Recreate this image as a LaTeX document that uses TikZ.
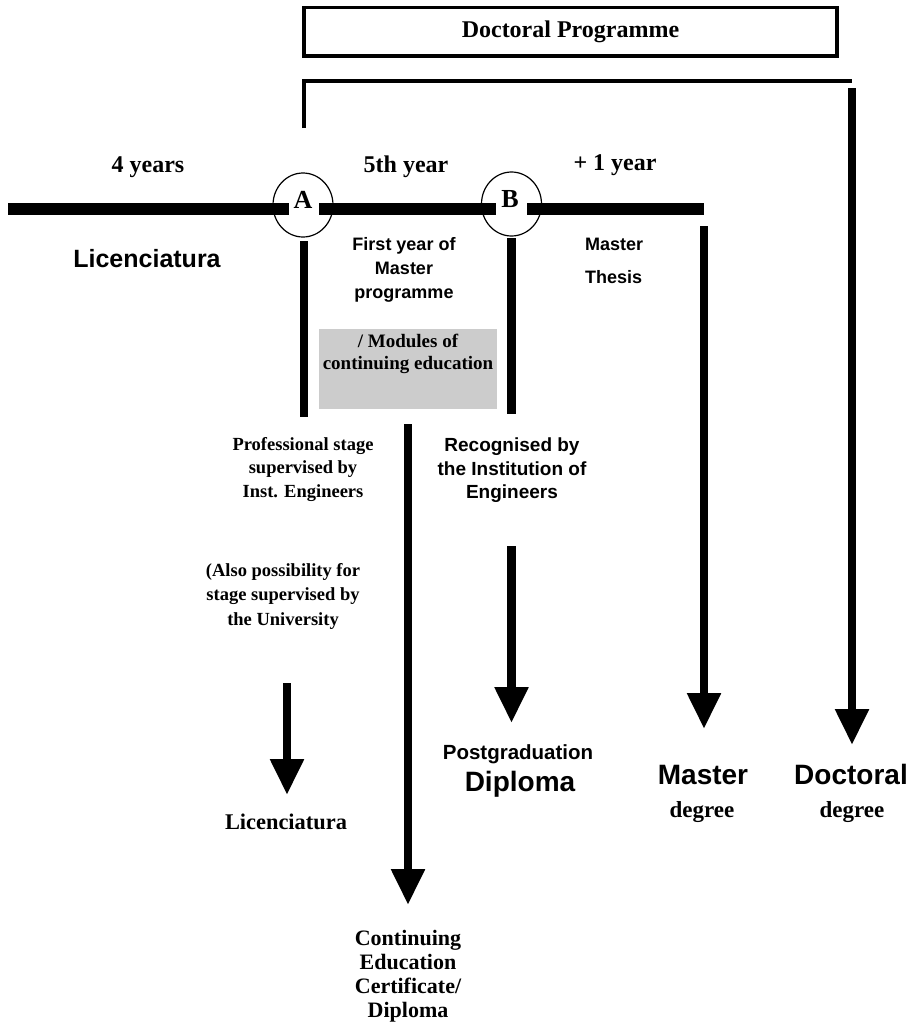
\documentclass[tikz,border=0pt]{standalone}
\usepackage{fontspec}
\setmainfont{Liberation Serif}
\newfontfamily\arialfont{Liberation Sans}
\usetikzlibrary{arrows.meta,shapes.geometric}

\begin{document}
\begin{tikzpicture}[x=1pt,y=-1pt,
  bar/.style={line width=12pt},
  stem/.style={line width=8.5pt},
  flowarrow/.style={line width=8.5pt,-{Triangle[width=32pt,length=36pt]}},
  frame/.style={line width=3.5pt},
  ring/.style={draw,line width=1.2pt,ellipse,minimum width=60pt,minimum height=64pt,inner sep=0pt},
  rm/.style={font=\fontsize{#1}{#1}\selectfont\bfseries,inner sep=0pt,align=center},
  sf/.style={font=\fontsize{#1}{#1}\selectfont\arialfont\bfseries,inner sep=0pt,align=center},
  graybox/.style={fill=black!20,minimum width=178pt,minimum height=80pt,inner sep=0pt}
]
\useasboundingbox (0,0) rectangle (916,1033);

% programme box and bracket leading to the doctorate
\node[draw,frame,minimum width=533pt,minimum height=48.5pt,inner sep=0pt,
      font=\fontsize{24}{24}\selectfont\bfseries] (dp) at (570.5,31.75) {Doctoral Programme};
\coordinate (brFoot) at (304,128);
\coordinate (brCorner) at (304,81);
\coordinate (brEnd) at (852,81);
\draw[line width=4pt,miter limit=4] (brFoot) -- (brCorner) -- (brEnd);

% decision points on the time line
\node[ring] (A) at (303,205) {};
\node[ring] (B) at (511.5,204) {};
\node[rm=26,anchor=base] (Alab) at (303,208) {A};
\node[rm=26,anchor=base] (Blab) at (510,207) {B};

% time line
\coordinate (barL) at (8,209);
\coordinate (aL) at (289,209);
\coordinate (aR) at (319,209);
\coordinate (bL) at (496,209);
\coordinate (bR) at (527,209);
\coordinate (barR) at (704,209);
\draw[bar] (barL) -- (aL);
\draw[bar] (aR) -- (bL);
\draw[bar] (bR) -- (barR);

% period labels
\node[rm=24,anchor=base] (y4) at (148,172) {4 years};
\node[rm=24,anchor=base] (y5) at (406,172) {5th year};
\node[rm=24,anchor=base] (y6) at (615,170) {+ 1 year};

% stems below A and B
\coordinate (aTop) at (304,241);
\coordinate (aBot) at (304,417);
\coordinate (bTop) at (511.5,238);
\coordinate (bBot) at (511.5,414);
\draw[stem] (aTop) -- (aBot);
\draw[stem] (bTop) -- (bBot);

% module block
\node[graybox] (G) at (408,369) {};
\node[anchor=north,inner sep=0pt,align=center,font=\fontsize{19}{22}\selectfont\bfseries] (Gtxt) at (408,334)
  {/ Modules of\\continuing education};

% texts near the time line
\node[sf=25,anchor=base] (lic) at (147,267) {Licenciatura};
\node[anchor=north,inner sep=0pt,align=center,font=\fontsize{18}{24}\selectfont\arialfont\bfseries]
  (fy) at (404,237) {First year of\\Master\\programme};
\node[anchor=north west,inner sep=0pt,align=left,font=\fontsize{18}{33}\selectfont\arialfont\bfseries]
  (mt) at (585,238) {Master\\Thesis};

% outgoing arrows
\coordinate (ceTop) at (408,424);
\coordinate (ceTip) at (408,905);
\coordinate (pgTop) at (511.5,546);
\coordinate (pgTip) at (511.5,723);
\coordinate (liTop) at (287,683);
\coordinate (liTip) at (287,795);
\coordinate (maTop) at (704,226);
\coordinate (maTip) at (704,729);
\coordinate (doTop) at (852,88);
\coordinate (doTip) at (852,745);
\draw[flowarrow] (ceTop) -- (ceTip);
\draw[flowarrow] (pgTop) -- (pgTip);
\draw[flowarrow] (liTop) -- (liTip);
\draw[flowarrow] (maTop) -- (maTip);
\draw[flowarrow] (doTop) -- (doTip);

% notes under the stems
\node[anchor=north,inner sep=0pt,align=center,font=\fontsize{18.5}{23.5}\selectfont\bfseries]
  (ps) at (303,437) {Professional stage\\supervised by\\Inst. Engineers};
\node[anchor=north,inner sep=0pt,align=center,font=\fontsize{18.5}{24.5}\selectfont\bfseries]
  (al) at (283,563) {(Also possibility for\\stage supervised by\\the University};
\node[anchor=north,inner sep=0pt,align=center,font=\fontsize{19}{23.5}\selectfont\arialfont\bfseries]
  (rec) at (512,438) {Recognised by\\the Institution of\\Engineers};

% awards
\node[sf=20.5,anchor=base] (pg1) at (518,759) {Postgraduation};
\node[sf=28,anchor=base] (pg2) at (520,791) {Diploma};
\node[sf=28,anchor=base] (ma1) at (703,784) {Master};
\node[rm=23,anchor=base] (ma2) at (702,817) {degree};
\node[sf=28,anchor=base] (do1) at (851,784) {Doctoral};
\node[rm=23,anchor=base] (do2) at (852,817) {degree};
\node[rm=22.4,anchor=base] (li2) at (286,829) {Licenciatura};
\node[anchor=north,inner sep=0pt,align=center,font=\fontsize{22}{24}\selectfont\bfseries]
  (ce) at (408,930) {Continuing\\Education\\Certificate/\\Diploma};
\end{tikzpicture}
\end{document}
